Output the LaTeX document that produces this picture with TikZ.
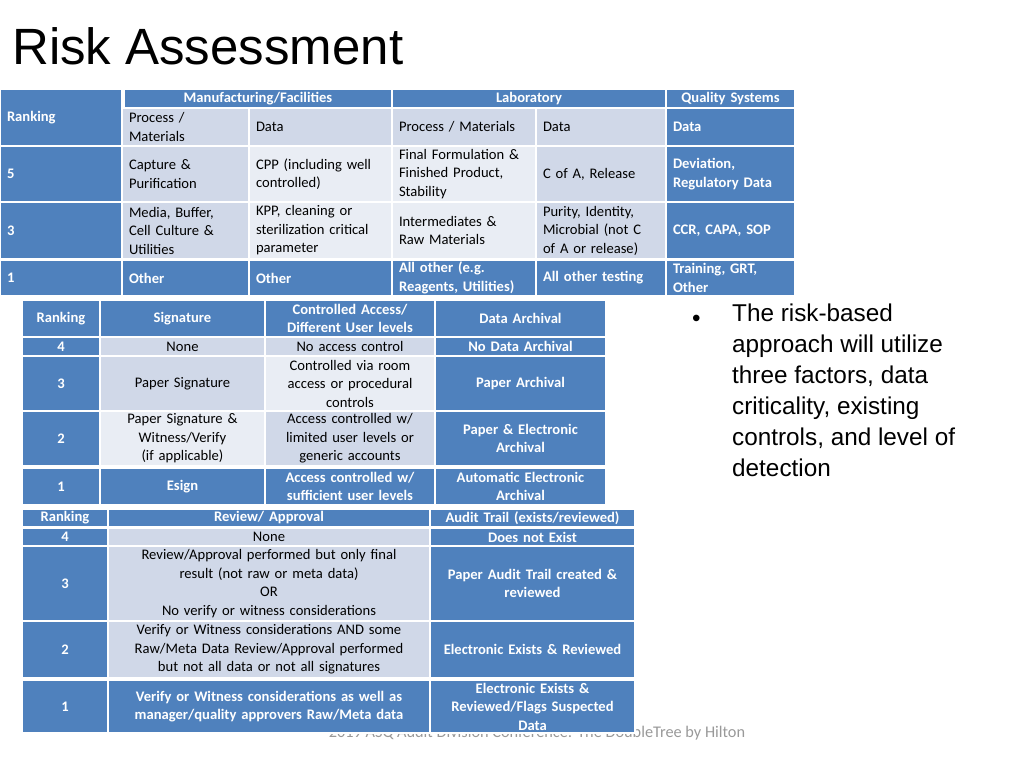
\documentclass[tikz,border=0pt]{standalone}
\usepackage{fontspec}
\setmainfont{Carlito}
\newfontfamily\arialf{Liberation Sans}
\definecolor{hb}{HTML}{4F81BD}
\definecolor{lb}{HTML}{D0D8E8}
\definecolor{lc}{HTML}{E9EDF4}
\tikzset{
 cellbase/.style={draw=white,line width=1.5pt,inner sep=0pt,font={\fontsize{14.6}{18.5}\selectfont}},
 bl/.style={cellbase,fill=hb,text=white,font={\fontsize{14.6}{18.5}\selectfont\bfseries}},
 lt/.style={cellbase,fill=lb,text=black},
 lx/.style={cellbase,fill=lc,text=black},
 L/.style={align=left},
 C/.style={align=center}
}
\newcommand\tcell[7]{%
 \pgfmathsetmacro\cw{#3-#1}\pgfmathsetmacro\ch{#4-#2}\pgfmathsetmacro\tw{#3-#1-14}%
 \pgfmathsetmacro\cx{(#1+#3)/2}\pgfmathsetmacro\cy{(#2+#4)/2}%
 \node[#5,minimum width=\cw pt,minimum height=\ch pt,text width=\tw pt] (#6) at (\cx,\cy) {#7};}
\begin{document}
\begin{tikzpicture}[x=1pt,y=-1pt]
\useasboundingbox (0,0) rectangle (1024,768);
\node[anchor=base west,inner sep=0pt,font={\arialf\fontsize{51}{55}\selectfont}] (title) at (12,64) {Risk Assessment};
% footer
\node[text=gray!80,font={\fontsize{16.3}{18}\selectfont}] (foot) at (537,733) {2019 ASQ Audit Division Conference: The DoubleTree by Hilton};
% Table 1
\tcell{0}{89}{122}{146}{bl,L}{r0}{Ranking\\[14pt]}
\tcell{124}{89}{392}{108}{bl,C}{hmf}{Manufacturing/Facilities}
\tcell{392}{89}{666}{108}{bl,C}{hlab}{Laboratory}
\tcell{666}{89}{795}{108}{bl,C}{hqs}{Quality Systems}
\tcell{122}{108}{249}{146}{lt,L}{s1}{Process /\\Materials}
\tcell{249}{108}{392}{146}{lt,L}{s2}{Data}
\tcell{392}{108}{536}{146}{lt,L}{s3}{Process / Materials}
\tcell{536}{108}{666}{146}{lt,L}{s4}{Data}
\tcell{666}{108}{795}{146}{bl,L}{s5}{Data}
\tcell{0}{146}{122}{202}{bl,L}{a0}{5}
\tcell{122}{146}{249}{202}{lt,L}{a1}{Capture \&\\Purification}
\tcell{249}{146}{392}{202}{lx,L}{a2}{CPP (including well\\controlled)}
\tcell{392}{146}{536}{202}{lx,L}{a3}{Final Formulation \&\\Finished Product,\\Stability}
\tcell{536}{146}{666}{202}{lt,L}{a4}{C of A, Release}
\tcell{666}{146}{795}{202}{bl,L}{a5}{Deviation,\\Regulatory Data}
\tcell{0}{202}{122}{259}{bl,L}{b0}{3}
\tcell{122}{202}{249}{259}{lt,L}{b1}{Media, Buffer,\\Cell Culture \&\\Utilities}
\tcell{249}{202}{392}{259}{lx,L}{b2}{KPP, cleaning or\\sterilization critical\\parameter}
\tcell{392}{202}{536}{259}{lx,L}{b3}{Intermediates \&\\Raw Materials}
\tcell{536}{202}{666}{259}{lt,L}{b4}{Purity, Identity,\\Microbial (not C\\of A or release)}
\tcell{666}{202}{795}{259}{bl,L}{b5}{CCR, CAPA, SOP}
\tcell{0}{260}{122}{296}{bl,L}{c0}{1}
\tcell{122}{260}{249}{296}{bl,L}{c1}{Other}
\tcell{249}{260}{392}{296}{bl,L}{c2}{Other}
\tcell{392}{260}{536}{296}{bl,L}{c3}{All other (e.g.\\Reagents, Utilities)}
\tcell{536}{260}{666}{296}{bl,L}{c4}{All other testing}
\tcell{666}{260}{795}{296}{bl,L}{c5}{Training, GRT,\\Other}
% Table 2
\tcell{22}{300}{100}{337}{bl,C}{t0}{Ranking}
\tcell{100}{300}{265}{337}{bl,C}{t1}{Signature}
\tcell{265}{300}{435}{337}{bl,C}{t2}{Controlled Access/\\Different User levels}
\tcell{435}{300}{606}{337}{bl,C}{t3}{Data Archival}
\tcell{22}{337}{100}{356}{bl,C}{u0}{4}
\tcell{100}{337}{265}{356}{lt,C}{u1}{None}
\tcell{265}{337}{435}{356}{lt,C}{u2}{No access control}
\tcell{435}{337}{606}{356}{bl,C}{u3}{No Data Archival}
\tcell{22}{356}{100}{411}{bl,C}{v0}{3}
\tcell{100}{356}{265}{411}{lt,C}{v1}{Paper Signature}
\tcell{265}{356}{435}{411}{lx,C}{v2}{Controlled via room\\access or procedural\\controls}
\tcell{435}{356}{606}{411}{bl,C}{v3}{Paper Archival}
\tcell{22}{411}{100}{466}{bl,C}{w0}{2}
\tcell{100}{411}{265}{466}{lx,C}{w1}{Paper Signature \&\\Witness/Verify\\(if applicable)}
\tcell{265}{411}{435}{466}{lt,C}{w2}{Access controlled w/\\limited user levels or\\generic accounts}
\tcell{435}{411}{606}{466}{bl,C}{w3}{Paper \& Electronic\\Archival}
\tcell{22}{468}{100}{505}{bl,C}{x0}{1}
\tcell{100}{468}{265}{505}{bl,C}{x1}{Esign}
\tcell{265}{468}{435}{505}{bl,C}{x2}{Access controlled w/\\sufficient user levels}
\tcell{435}{468}{606}{505}{bl,C}{x3}{Automatic Electronic\\Archival}
% Table 3
\tcell{22}{509}{108}{527}{bl,C}{y0}{Ranking}
\tcell{108}{509}{430}{527}{bl,C}{y1}{Review/ Approval}
\tcell{430}{509}{635}{527}{bl,C}{y2}{Audit Trail (exists/reviewed)}
\tcell{22}{528}{108}{546}{bl,C}{z0}{4}
\tcell{108}{528}{430}{546}{lt,C}{z1}{None}
\tcell{430}{528}{635}{546}{bl,C}{z2}{Does not Exist}
\tcell{22}{546}{108}{621}{bl,C}{p0}{3}
\tcell{108}{546}{430}{621}{lt,C}{p1}{Review/Approval performed but only final\\result (not raw or meta data)\\OR\\No verify or witness considerations}
\tcell{430}{546}{635}{621}{bl,C}{p2}{Paper Audit Trail created \&\\reviewed}
\tcell{22}{621}{108}{678}{bl,C}{q0}{2}
\tcell{108}{621}{430}{678}{lt,C}{q1}{Verify or Witness considerations AND some\\Raw/Meta Data Review/Approval performed\\but not all data or not all signatures}
\tcell{430}{621}{635}{678}{bl,C}{q2}{Electronic Exists \& Reviewed}
\tcell{22}{680}{108}{733}{bl,C}{k0}{1}
\tcell{108}{680}{430}{733}{bl,C}{k1}{Verify or Witness considerations as well as\\manager/quality approvers Raw/Meta data}
\tcell{430}{680}{635}{733}{bl,C}{k2}{Electronic Exists \&\\Reviewed/Flags Suspected\\Data}
% bullet
\node[anchor=base west,inner sep=0pt,font={\arialf\fontsize{24.3}{31}\selectfont}] (bul) at (692,326) {•};
\node[anchor=north west,align=left,inner sep=0pt,font={\arialf\fontsize{24.3}{31}\selectfont}] (btxt) at (732,304) {The risk-based\\approach will utilize\\three factors, data\\criticality, existing\\controls, and level of\\detection};
\end{tikzpicture}
\end{document}
